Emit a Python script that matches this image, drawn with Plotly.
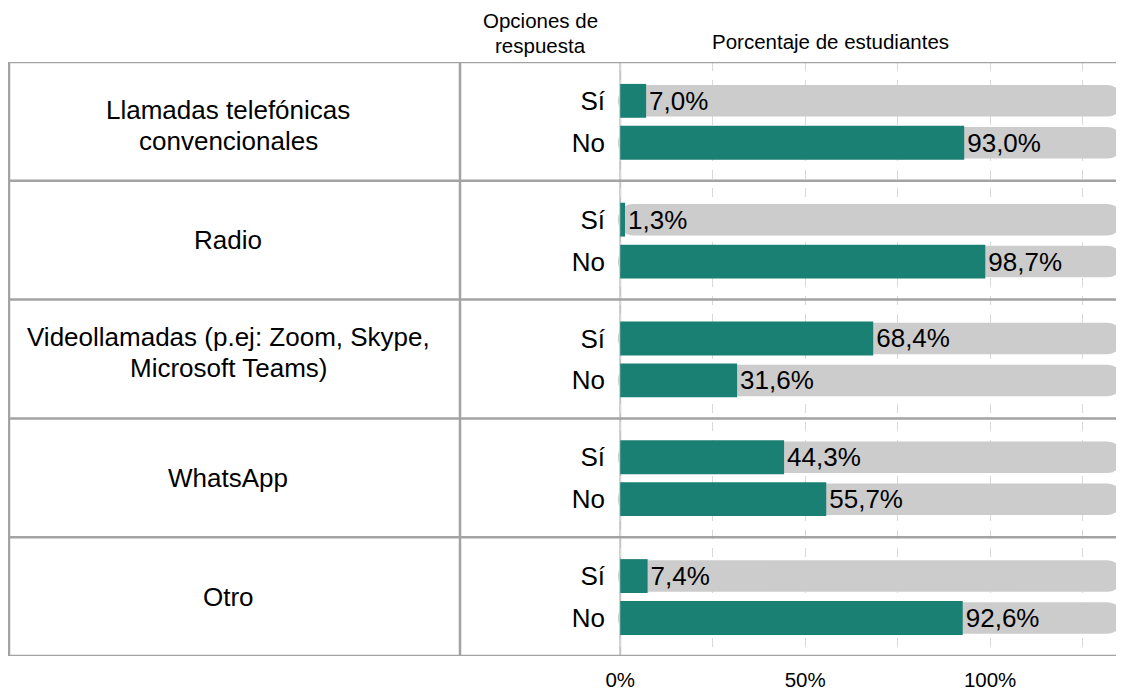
import plotly.graph_objects as go

# datos
categorias = [["Llamadas telefónicas", "convencionales"], ["Radio"],
              ["Videollamadas (p.ej: Zoom, Skype,", "Microsoft Teams)"],
              ["WhatsApp"], ["Otro"]]
respuestas = ["Sí", "No"]
pct_si = [7.0, 1.3, 68.4, 44.3, 7.4]
pct_no = [93.0, 98.7, 31.6, 55.7, 92.6]
x_ticks = [0, 50, 100]
x_ticklabels = ["0%", "50%", "100%"]

TEAL = "#1B8074"
GRIS = "#CCCCCC"
LINEA = "#A3A3A3"
FONT = "Liberation Sans, Arial, sans-serif"

# la pagina tiene 8px de margen, la figura se ajusta a la ventana
W, H = 1116, 683
L, R, T, B = 610, 0, 54, 33
X_MIN, X_MAX = -0.6, 136.2
PLOT_H = H - T - B
LINE_GAP = 31                      # px entre lineas del texto de categoria
label_shift = [4, 0, -7, 0, 0]     # ajuste vertical (px) del texto de cada fila


def px2paper(px):
    return (px - L) / (W - L - R)


def py2paper(py):
    return (H - B - py) / PLOT_H


def fmt(v):
    return f"{v:.1f}".replace(".", ",") + "%"


n = len(categorias)
y_si = [k + 0.327 for k in range(n)]
y_no = [k + 0.68 for k in range(n)]
y_all = y_si + y_no
vals = pct_si + pct_no

fig = go.Figure()

# fondo gris redondeado
fig.add_trace(go.Bar(
    x=[135.8 - X_MIN] * len(y_all), y=y_all, base=X_MIN, orientation="h",
    width=0.265, marker=dict(color=GRIS, cornerradius=15, line_width=0),
    hoverinfo="skip", showlegend=False,
))

# barras de porcentaje
fig.add_trace(go.Bar(
    x=vals, y=y_all, orientation="h", width=0.285,
    marker=dict(color=TEAL, line_width=0),
    text=[fmt(v) for v in vals], textposition="outside",
    textfont=dict(size=26, color="#000000", family=FONT),
    constraintext="none", cliponaxis=False, showlegend=False,
))

shapes = []
# lineas horizontales de la tabla
for k in range(n + 1):
    shapes.append(dict(type="line", xref="paper", yref="y",
                       x0=px2paper(0), x1=1, y0=k, y1=k,
                       line=dict(color=LINEA, width=2.5)))
# lineas verticales
for px in [1, 452]:
    shapes.append(dict(type="line", xref="paper", yref="y",
                       x0=px2paper(px), x1=px2paper(px), y0=0, y1=n,
                       line=dict(color=LINEA, width=2.5)))
shapes.append(dict(type="line", xref="x", yref="y", x0=0, x1=0, y0=0, y1=n + 0.02,
                   line=dict(color="#C4C4C4", width=2), layer="below"))

annotations = []
for k, lineas in enumerate(categorias):
    m = len(lineas)
    for j, txt in enumerate(lineas):
        off = (j - (m - 1) / 2) * LINE_GAP
        annotations.append(dict(text=txt, xref="paper", yref="y", x=px2paper(220), y=k + 0.5,
                                yshift=-off - label_shift[k],
                                showarrow=False, xanchor="center", yanchor="middle",
                                font=dict(size=26, color="#000000", family=FONT)))
for txt, py in [("Opciones de", 12), ("respuesta", 37)]:
    annotations.append(dict(text=txt, xref="paper", yref="paper",
                            x=px2paper(532), y=py2paper(py), showarrow=False,
                            xanchor="center", yanchor="middle",
                            font=dict(size=20.5, color="#000000", family=FONT)))
annotations.append(dict(text="Porcentaje de estudiantes", xref="paper", yref="paper",
                        x=px2paper(822), y=py2paper(33), showarrow=False,
                        xanchor="center", yanchor="middle",
                        font=dict(size=20.5, color="#000000", family=FONT)))

fig.update_layout(
    width=W, height=H,
    margin=dict(l=L, r=R, t=T, b=B),
    paper_bgcolor="white", plot_bgcolor="white",
    barmode="overlay",
    font=dict(family=FONT, color="#000000"),
    shapes=shapes, annotations=annotations,
    xaxis=dict(range=[X_MIN, X_MAX], tickvals=x_ticks, ticktext=x_ticklabels,
               showgrid=False, zeroline=False, showline=False, ticks="",
               ticklabelstandoff=9, tickfont=dict(size=20.5, color="#000000")),
    yaxis=dict(range=[n, 0], tickvals=y_si + y_no,
               ticktext=[respuestas[0]] * n + [respuestas[1]] * n,
               showgrid=False, zeroline=False, showline=False, ticks="",
               ticklabelstandoff=12, tickfont=dict(size=26, color="#000000")),
)
# rejilla discontinua cada 25%
fig.update_xaxes(minor=dict(dtick=25, tick0=0, showgrid=True, griddash="dash",
                            gridcolor="#D9D9D9", gridwidth=1, ticks=""))

fig.write_html("out.html")
